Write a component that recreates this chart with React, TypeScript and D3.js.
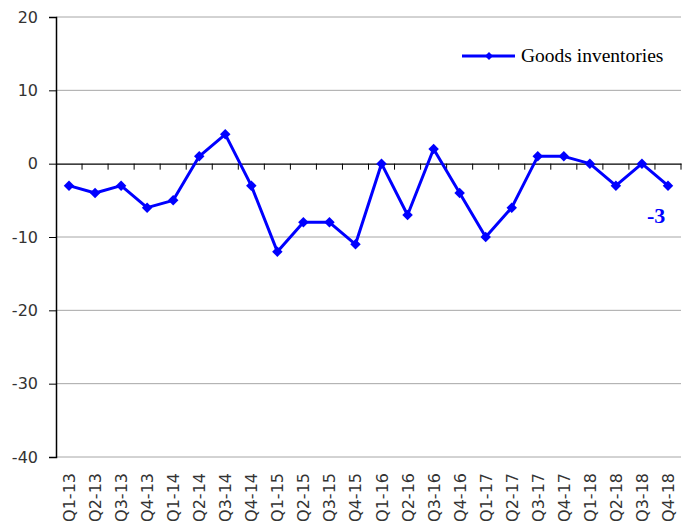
import { useEffect, useRef } from "react"
import * as d3 from "d3"

const quarters = [
  "Q1-13", "Q2-13", "Q3-13", "Q4-13",
  "Q1-14", "Q2-14", "Q3-14", "Q4-14",
  "Q1-15", "Q2-15", "Q3-15", "Q4-15",
  "Q1-16", "Q2-16", "Q3-16", "Q4-16",
  "Q1-17", "Q2-17", "Q3-17", "Q4-17",
  "Q1-18", "Q2-18", "Q3-18", "Q4-18",
]
const goodsInventories = [
  -3, -4, -3, -6,
  -5, 1, 4, -3,
  -12, -8, -8, -11,
  0, -7, 2, -4,
  -10, -6, 1, 1,
  0, -3, 0, -3,
]
const yTicks = [20, 10, 0, -10, -20, -30, -40]
const seriesName = "Goods inventories"
const lastLabel = "-3"

const width = 692, height = 527
const margin = { top: 17, right: 11, bottom: 70, left: 56 }
const blue = "#0000ff"

const App = () => {
  const ref = useRef<SVGSVGElement>(null)

  useEffect(() => {
    const svg = d3.select(ref.current)
    svg.selectAll("*").remove()

    const x = d3.scaleBand<string>()
      .domain(quarters)
      .range([margin.left, width - margin.right])
    const y = d3.scaleLinear()
      .domain([-40, 20])
      .range([height - margin.bottom, margin.top])

    // gridlines
    svg.append("g")
      .selectAll("line")
      .data(yTicks.filter(d => d !== 0))
      .enter()
      .append("line")
      .attr("x1", margin.left)
      .attr("x2", width - margin.right)
      .attr("y1", d => y(d))
      .attr("y2", d => y(d))
      .attr("stroke", "#a6a6a6")
      .attr("stroke-width", 1)

    // y axis
    const yAxis = svg.append("g")
      .attr("transform", `translate(${margin.left},0)`)
      .call(d3.axisLeft(y).tickValues(yTicks).tickSize(7).tickPadding(11).tickFormat(d => String(d)))
    yAxis.select(".domain").attr("stroke", "#000").attr("stroke-width", 1.5)
    yAxis.selectAll(".tick line").attr("stroke", "#000")
    yAxis.selectAll("text")
      .attr("font-family", "DejaVu Sans, Verdana, sans-serif")
      .attr("font-size", 16)
      .attr("fill", "#333")

    // zero axis with category ticks
    const xAxis = svg.append("g")
      .attr("transform", `translate(0,${y(0)})`)
      .call(d3.axisBottom(x).tickSize(0).tickFormat(() => ""))
    xAxis.select(".domain").attr("stroke", "#000").attr("stroke-width", 1.2)
    xAxis.selectAll(".tick").remove()
    xAxis.selectAll(".cat")
      .data(quarters)
      .enter()
      .append("line")
      .attr("x1", d => x(d)! + x.bandwidth())
      .attr("x2", d => x(d)! + x.bandwidth())
      .attr("y1", 0)
      .attr("y2", 6)
      .attr("stroke", "#000")

    // category labels at the bottom
    svg.append("g")
      .selectAll("text")
      .data(quarters)
      .enter()
      .append("text")
      .attr("transform", d => `translate(${x(d)! + x.bandwidth() / 2 + 6},${height - margin.bottom + 16}) rotate(-90)`)
      .attr("text-anchor", "end")
      .attr("font-family", "DejaVu Sans, Verdana, sans-serif")
      .attr("font-size", 16)
      .attr("fill", "#333")
      .text(d => d)

    const cx = (i: number) => x(quarters[i])! + x.bandwidth() / 2

    svg.append("path")
      .datum(goodsInventories)
      .attr("fill", "none")
      .attr("stroke", blue)
      .attr("stroke-width", 3)
      .attr("stroke-linejoin", "round")
      .attr("d", d3.line<number>().x((d, i) => cx(i)).y(d => y(d)))

    const diamond = d3.symbol().type(d3.symbolDiamond2).size(70)
    svg.append("g")
      .selectAll("path")
      .data(goodsInventories)
      .enter()
      .append("path")
      .attr("d", diamond)
      .attr("transform", (d, i) => `translate(${cx(i)},${y(d)})`)
      .attr("fill", blue)

    // value label for last point
    const last = goodsInventories.length - 1
    svg.append("text")
      .attr("x", cx(last) - 21)
      .attr("y", y(goodsInventories[last]) + 37)
      .attr("font-family", "Liberation Serif, Times New Roman, serif")
      .attr("font-weight", "bold")
      .attr("font-size", 22)
      .attr("fill", blue)
      .text(lastLabel)

    // legend
    const legend = svg.append("g").attr("transform", "translate(462,56)")
    legend.append("line")
      .attr("x1", 0).attr("x2", 53)
      .attr("stroke", blue).attr("stroke-width", 3)
    legend.append("path")
      .attr("d", d3.symbol().type(d3.symbolDiamond2).size(40))
      .attr("transform", "translate(27,0)")
      .attr("fill", blue)
    legend.append("text")
      .attr("x", 59)
      .attr("y", 6)
      .attr("font-family", "Liberation Serif, Times New Roman, serif")
      .attr("font-size", 19.5)
      .attr("fill", "#000")
      .text(seriesName)
  }, [])

  return (
    <svg ref={ref} width={width} height={height}
      style={{ position: "absolute", left: 0, top: 0, background: "#fff" }} />
  )
}

export default App
